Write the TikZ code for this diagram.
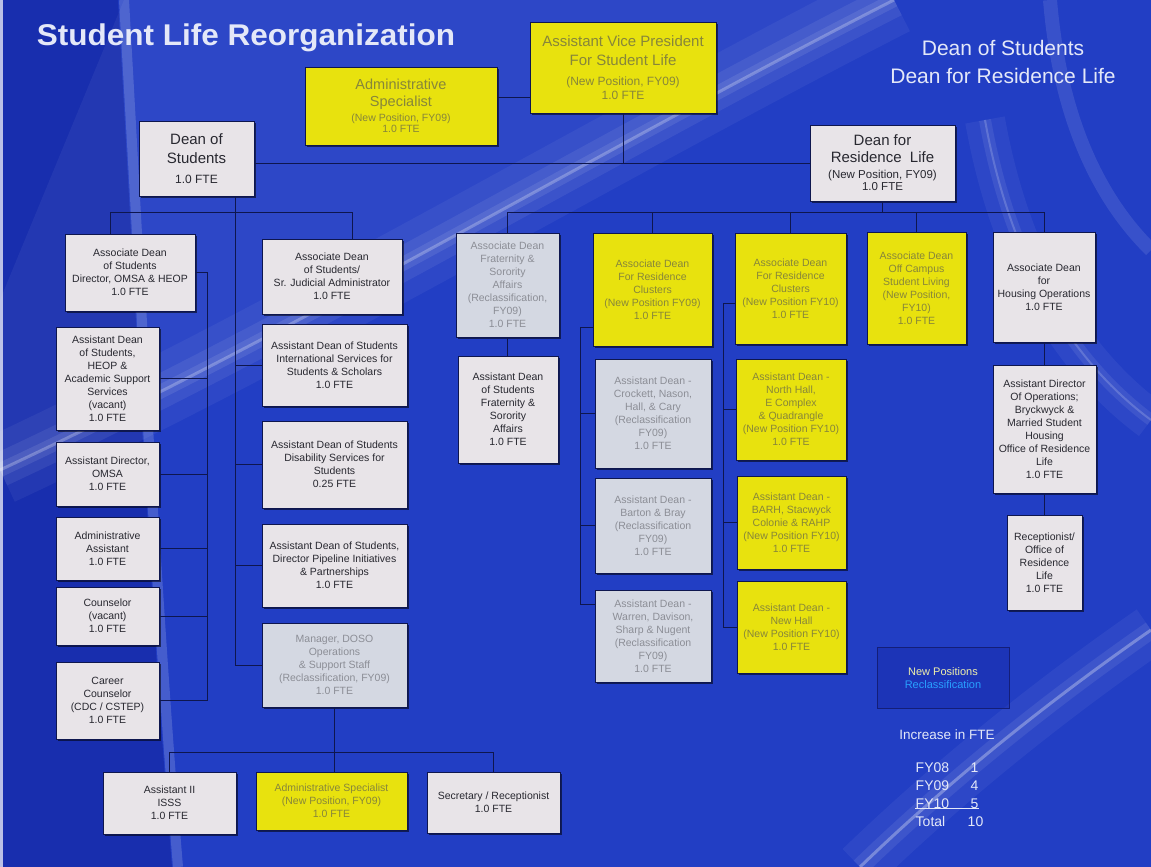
\documentclass[tikz,border=0pt]{standalone}
\usepackage{fontspec}
\usepackage{graphicx}
\setmainfont{Liberation Sans}
\usetikzlibrary{shadows}
\definecolor{bgblue}{RGB}{34,62,196}
\definecolor{bgdark}{RGB}{18,36,160}
\definecolor{boxlight}{RGB}{232,228,232}
\definecolor{boxrec}{RGB}{212,216,226}
\definecolor{boxyel}{RGB}{232,226,14}
\definecolor{txtdark}{RGB}{40,40,48}
\definecolor{txtyel}{RGB}{135,134,58}
\definecolor{txtrec}{RGB}{140,142,150}
\definecolor{lineblue}{RGB}{14,22,78}
\definecolor{titlewhite}{RGB}{228,232,248}
\definecolor{legyel}{RGB}{240,240,170}
\definecolor{legblue}{RGB}{40,160,255}
\definecolor{legline}{RGB}{20,30,120}
\tikzset{
  base/.style={draw=lineblue, line width=0.6pt, align=center, inner sep=1pt,
    font=\fontsize{10.5}{13}\selectfont,
    drop shadow={shadow xshift=1.6pt, shadow yshift=-1.6pt, fill=black, opacity=0.55}},
  lbox/.style={base, fill=boxlight, text=txtdark},
  ybox/.style={base, fill=boxyel, text=txtyel},
  rbox/.style={base, fill=boxrec, text=txtrec},
  conn/.style={draw=lineblue, line width=0.9pt},
  wtext/.style={text=titlewhite, inner sep=0.5pt},
}
\newcommand\orgbox[7]{%
  \pgfmathsetmacro\obw{#5-#3}%
  \pgfmathsetmacro\obh{#6-#4}%
  \pgfmathsetmacro\obx{(#3+#5)/2}%
  \pgfmathsetmacro\oby{(#4+#6)/2}%
  \node[#1, minimum width=\obw pt, minimum height=\obh pt] (#2) at (\obx,\oby) {#7};}
\newcommand\midf{\fontsize{12}{14}\selectfont}
\newcommand\smf{\fontsize{10.5}{12}\selectfont}
\begin{document}
\begin{tikzpicture}[x=1pt,y=-1pt]
\useasboundingbox (0,0) rectangle (1151,867);
% ---------- background ----------
\fill[bgblue] (0,0) rectangle (1151,867);
\fill[bgdark, opacity=0.6] (0,0) -- (118,0) .. controls (135,300) and (150,600) .. (172,867) -- (0,867) -- cycle;
\draw[white, opacity=0.16, line width=10pt] (124,0) .. controls (141,300) and (156,600) .. (178,867);
\fill[white, opacity=0.05] (124,0) -- (894,0) .. controls (600,150) and (300,330) .. (0,470) -- (0,300) -- cycle;
\foreach \w/\o in {70/0.05, 34/0.07, 14/0.09, 3/0.25}
  \draw[white, opacity=\o, line width=\w pt] (0,470) .. controls (300,330) and (600,150) .. (894,0);
\foreach \w/\o in {40/0.05, 12/0.08, 2/0.18}
  \draw[white, opacity=\o, line width=\w pt] (1151,420) .. controls (1070,360) and (1010,260) .. (985,120);
\foreach \w/\o in {50/0.05, 18/0.08, 3/0.3}
  \draw[white, opacity=\o, line width=\w pt] (860,867) .. controls (950,780) and (1050,700) .. (1151,630);
\draw[white, opacity=0.10, line width=14pt] (1151,250) .. controls (1100,200) and (1060,120) .. (1050,0);
\fill[white, opacity=0.7] (0,0) rectangle (3,867);
% ---------- title ----------
\node[font=\fontsize{30}{34}\selectfont\bfseries, text=titlewhite, inner sep=0pt] (title) at (246,38) {\scalebox{1.05}[1]{Student Life Reorganization}};
\node[font=\fontsize{21}{28}\selectfont, wtext, align=center] (hdr) at (1003,62) {Dean of Students\\Dean for Residence Life};
% ---------- top level ----------
\orgbox{ybox, font=\fontsize{15}{19.5}\selectfont}{avp}{530}{22}{716}{113}{Assistant Vice President\\For Student Life\\\midf (New Position, FY09)\\[-5pt]\midf 1.0 FTE}
\orgbox{ybox, font=\fontsize{14.5}{17}\selectfont}{as}{305}{67}{497}{145}{Administrative\\Specialist\\[-2pt]\smf (New Position, FY09)\\[-6pt]\smf 1.0 FTE}
\orgbox{lbox, font=\fontsize{15}{19.5}\selectfont}{dos}{139}{121}{254}{196}{Dean of\\Students\\\midf 1.0 FTE}
\orgbox{lbox, font=\fontsize{15}{17}\selectfont}{drl}{810}{125}{955}{201}{Dean for\\Residence\ \ Life\\[-1pt]\fontsize{11.5}{12}\selectfont (New Position, FY09)\\[-5pt]\fontsize{11.5}{12}\selectfont 1.0 FTE}
% ---------- Dean of Students side ----------
\orgbox{lbox}{ad1}{65}{234}{195}{311}{Associate Dean\\of Students\\Director, OMSA \& HEOP\\1.0 FTE}
\orgbox{lbox}{heop}{56}{327}{159}{430}{Assistant Dean\\of Students,\\HEOP \&\\Academic Support\\Services\\(vacant)\\1.0 FTE}
\orgbox{lbox}{omsa}{56}{442}{159}{506}{Assistant Director,\\OMSA\\1.0 FTE}
\orgbox{lbox}{aasst}{56}{517}{159}{580}{Administrative\\Assistant\\1.0 FTE}
\orgbox{lbox}{couns}{56}{587}{159}{645}{Counselor\\(vacant)\\1.0 FTE}
\orgbox{lbox}{career}{56}{662}{159}{739}{Career\\Counselor\\(CDC / CSTEP)\\1.0 FTE}
\orgbox{lbox}{jud}{262}{239}{402}{314}{Associate Dean\\of Students/\\Sr. Judicial Administrator\\1.0 FTE}
\orgbox{lbox}{intl}{262}{324}{407}{406}{Assistant Dean of Students\\International Services for\\Students \& Scholars\\1.0 FTE}
\orgbox{lbox}{disab}{262}{421}{407}{508}{Assistant Dean of Students\\Disability Services for\\Students\\0.25 FTE}
\orgbox{lbox}{pipe}{262}{524}{407}{607}{Assistant Dean of Students,\\Director Pipeline Initiatives\\\& Partnerships\\1.0 FTE}
\orgbox{rbox}{mgr}{262}{623}{407}{707}{Manager, DOSO\\Operations\\\& Support Staff\\(Reclassification, FY09)\\1.0 FTE}
\orgbox{lbox}{isss}{103}{772}{236}{834}{Assistant II\\ISSS\\1.0 FTE}
\orgbox{ybox}{asb}{256}{772}{407}{830}{Administrative Specialist\\(New Position, FY09)\\1.0 FTE}
\orgbox{lbox}{sec}{427}{772}{560}{833}{Secretary / Receptionist\\1.0 FTE}
% ---------- Residence Life side ----------
\orgbox{rbox}{frat}{456}{233}{559}{337}{Associate Dean\\Fraternity \&\\Sorority\\Affairs\\(Reclassification,\\FY09)\\1.0 FTE}
\orgbox{lbox}{fa}{458}{356}{558}{463}{Assistant Dean\\of Students\\Fraternity \&\\Sorority\\Affairs\\1.0 FTE}
\orgbox{ybox}{rc1}{593}{233}{712}{346}{Associate Dean\\For Residence\\Clusters\\(New Position FY09)\\1.0 FTE}
\orgbox{ybox}{rc2}{735}{233}{846}{344}{Associate Dean\\For Residence\\Clusters\\(New Position FY10)\\1.0 FTE}
\orgbox{rbox}{comb}{595}{359}{711}{468}{Assistant Dean -\\Crockett, Nason,\\Hall, \& Cary\\(Reclassification\\FY09)\\1.0 FTE}
\orgbox{rbox}{burt}{595}{478}{711}{573}{Assistant Dean -\\Barton \& Bray\\(Reclassification\\FY09)\\1.0 FTE}
\orgbox{rbox}{bax}{595}{590}{711}{682}{Assistant Dean -\\Warren, Davison,\\Sharp \& Nugent\\(Reclassification\\FY09)\\1.0 FTE}
\orgbox{ybox}{north}{736}{359}{846}{460}{Assistant Dean -\\North Hall,\\E Complex\\\& Quadrangle\\(New Position FY10)\\1.0 FTE}
\orgbox{ybox}{barh}{737}{476}{846}{569}{Assistant Dean -\\BARH, Stacwyck\\Colonie \& RAHP\\(New Position FY10)\\1.0 FTE}
\orgbox{ybox}{nowh}{737}{581}{846}{673}{Assistant Dean -\\New Hall\\(New Position FY10)\\1.0 FTE}
\orgbox{ybox}{offc}{867}{232}{966}{344}{Associate Dean\\Off Campus\\Student Living\\(New Position,\\FY10)\\1.0 FTE}
\orgbox{lbox}{hops}{993}{232}{1095}{342}{Associate Dean\\for\\Housing Operations\\1.0 FTE}
\orgbox{lbox}{adops}{993}{365}{1096}{493}{Assistant Director\\Of Operations;\\Bryckwyck \&\\Married Student\\Housing\\Office of Residence\\Life\\1.0 FTE}
\orgbox{lbox}{recep}{1007}{515}{1082}{610}{Receptionist/\\Office of\\Residence\\Life\\1.0 FTE}
% ---------- connectors ----------
\coordinate (hl) at (630,163);
\draw[conn] (avp.south) -- (avp.south |- hl);
\draw[conn] (dos.east |- hl) -- (drl.west |- hl);
\coordinate (asj) at (510,97);
\draw[conn] (as.east |- asj) -- (avp.west |- asj);
% Dean of Students trunk
\coordinate (mid) at (235,665);
\draw[conn] (dos.south -| mid) -- (mid) -- (mgr.west);
\foreach \n in {intl,disab,pipe} \draw[conn] (\n.west) -- (\n.west -| mid);
\coordinate (brl) at (110,212);
\coordinate (brr) at (352,212);
\draw[conn] (ad1.north -| brl) -- (brl) -- (brr) -- (jud.north -| brr);
\coordinate (col) at (207,700);
\draw[conn] (ad1.east) -- (ad1.east -| col) -- (col |- career.east) -- (career.east);
\foreach \n in {heop,omsa,aasst,couns} \draw[conn] (\n.east) -- (\n.east -| col);
\draw[conn] (mgr.south) -- (mgr.south |- asb.north);
\coordinate (bb) at (330,752);
\draw[conn] (isss.north) -- (isss.north |- bb) -- (sec.north |- bb) -- (sec.north);
% Residence Life
\coordinate (rb) at (503,212);
\draw[conn] (frat.north |- rb) -- (hops.north |- rb);
\draw[conn] (drl.south) -- (drl.south |- rb);
\foreach \n in {frat,rc1,rc2,offc,hops} \draw[conn] (\n.north) -- (\n.north |- rb);
\draw[conn] (frat.south) -- (frat.south |- fa.north);
\coordinate (c1t) at (580,327);
\coordinate (c1b) at (580,604);
\draw[conn] (c1t -| rc1.west) -- (c1t) -- (c1b) -- (c1b -| bax.west);
\foreach \n in {comb,burt} \draw[conn] (\n.west) -- (\n.west -| c1t);
\coordinate (c2t) at (723,303);
\draw[conn] (c2t -| rc2.west) -- (c2t) -- (c2t |- nowh.west) -- (nowh.west);
\foreach \n in {north,barh} \draw[conn] (\n.west) -- (\n.west -| c2t);
\draw[conn] (hops.south) -- (hops.south |- adops.north);
\draw[conn] (adops.south) -- (adops.south |- recep.north);
% ---------- legend ----------
\node[draw=legline, line width=1pt, fill=bgdark, fill opacity=0.35, minimum width=132pt, minimum height=61pt] (leg) at (943,677.5) {};
\node[font=\fontsize{11}{12.5}\selectfont, align=center, inner sep=0pt] (legtxt) at (943,678) {\textcolor{legyel}{New Positions}\\\textcolor{legblue}{Reclassification}};
\node[font=\fontsize{13.5}{16}\selectfont, wtext] (inc) at (947,735) {Increase in FTE};
\begin{scope}[every node/.style={font=\fontsize{14}{16}\selectfont, wtext}]
\node[anchor=base west] (fy08) at (915,772) {FY08};
\node[anchor=base east] (n08) at (979,772) {1};
\node[anchor=base west] (fy09) at (915,790) {FY09};
\node[anchor=base east] (n09) at (979,790) {4};
\node[anchor=base west] (fy10) at (915,808) {FY10};
\node[anchor=base east] (n10) at (979,808) {5};
\node[anchor=base west] (tot) at (915,826) {Total};
\node[anchor=base east] (n11) at (984,826) {10};
\end{scope}
\draw[titlewhite, line width=0.8pt] (fy10.south west) -- (n10.south east);
\end{tikzpicture}
\end{document}
